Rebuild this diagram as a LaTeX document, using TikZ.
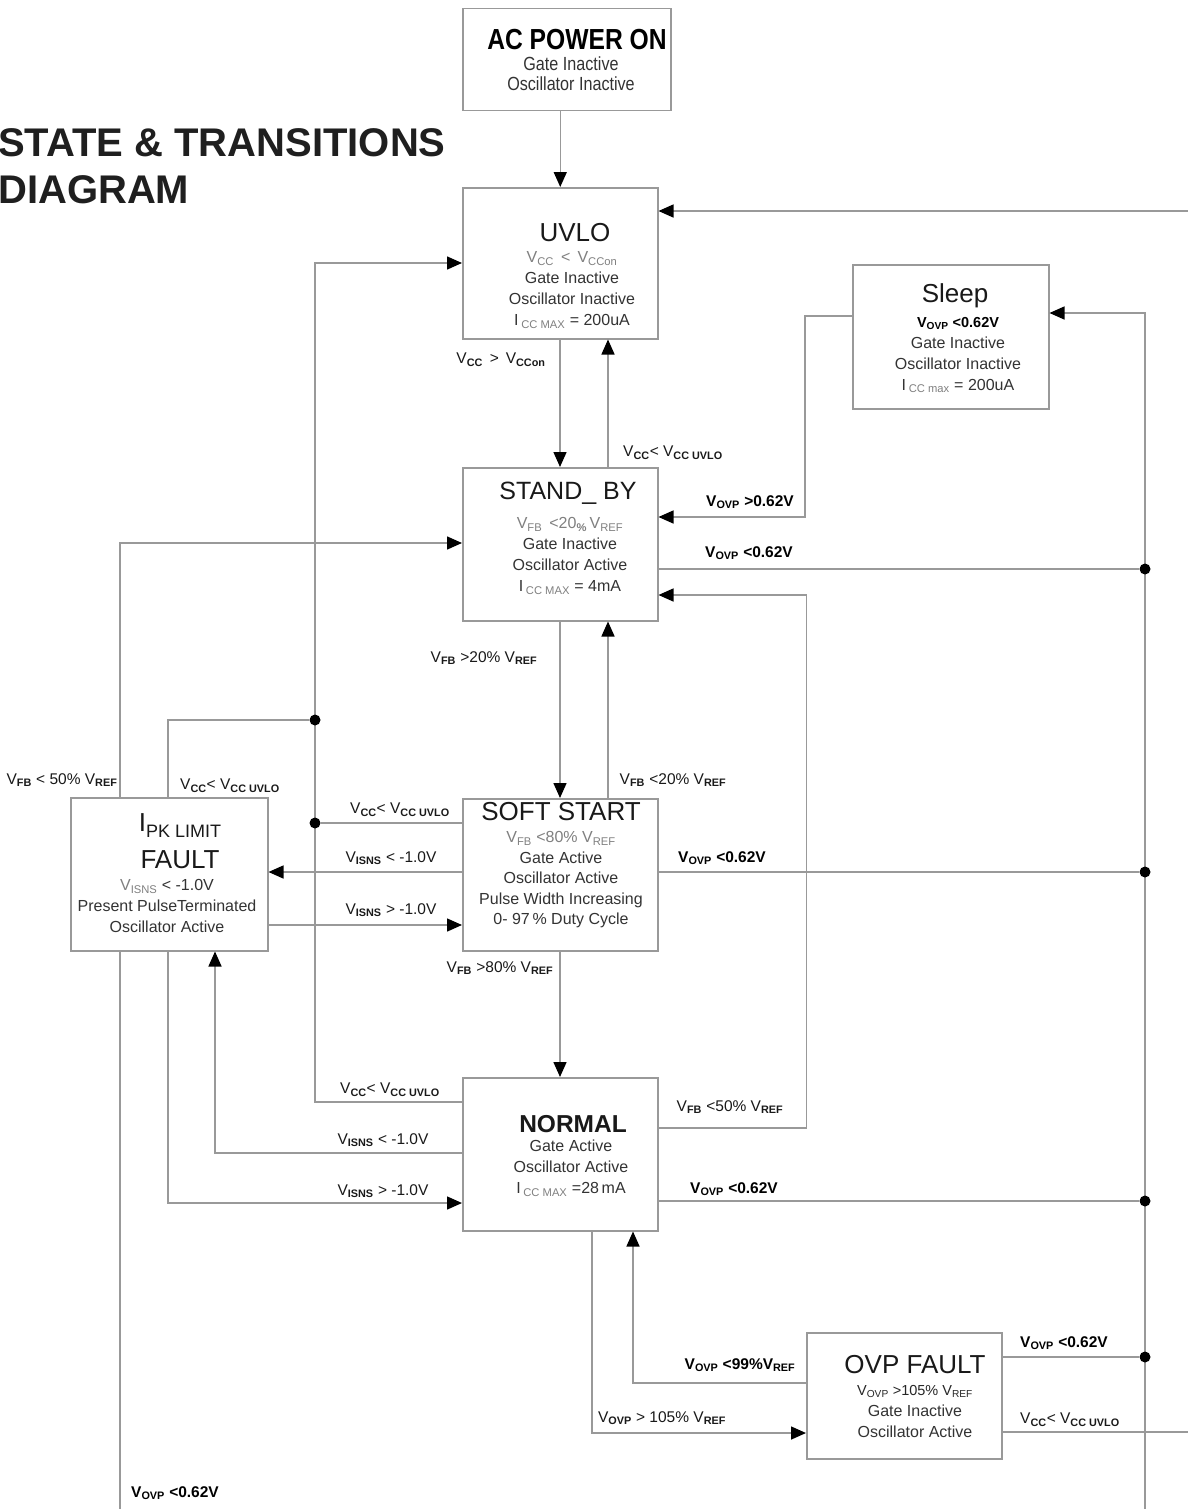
\documentclass[tikz,border=0pt]{standalone}
\usepackage{fontspec}
\setmainfont{Liberation Sans}
\newfontfamily\narrowfont[FakeStretch=0.85]{Liberation Sans}
\usetikzlibrary{arrows.meta}
\definecolor{linegray}{gray}{0.6}
\definecolor{txtgray}{gray}{0.2}
\definecolor{subgray}{gray}{0.5}
\newcommand\sbb[1]{\textsubscript{\bfseries #1}}
\newcommand\sbg[1]{\textsubscript{\color{subgray}#1}}
\tikzset{
  box/.style={draw=linegray, line width=1.5pt, fill=white, inner sep=0pt, anchor=north west},
  conn/.style={draw=linegray, line width=1.5pt},
  arr/.style={conn, -{Triangle[length=15pt,width=13pt,color=black]}},
  ttl/.style={font=\fontsize{26}{28}\selectfont, inner sep=0pt, text=black!90},
  body/.style={font=\fontsize{16}{21}\selectfont, text=txtgray, align=center, inner sep=0pt},
  cond/.style={font=\fontsize{15.5}{17}\selectfont, inner sep=0pt, text=black!90},
  bcond/.style={font=\fontsize{15.5}{17}\selectfont\bfseries, inner sep=0pt, text=black},
  jdot/.style={circle, fill=black, inner sep=0pt, minimum size=11pt}
}
\begin{document}
\begin{tikzpicture}[x=1pt,y=-1pt]
\useasboundingbox (0,0) rectangle (1187,1509);

% title
\node[anchor=west, align=left, inner sep=0pt, font=\fontsize{40}{47}\selectfont\bfseries, text=black!88] (title) at (-2,166) {STATE \& TRANSITIONS\\DIAGRAM};

% boxes
\node[box, minimum width=208, minimum height=102] (ac) at (462,8) {};
\node[box, minimum width=195, minimum height=151] (uvlo) at (462,187) {};
\node[box, minimum width=196, minimum height=144] (sleep) at (852,264) {};
\node[box, minimum width=195, minimum height=153] (sb) at (462,467) {};
\node[box, minimum width=195, minimum height=152] (ss) at (462,798) {};
\node[box, minimum width=197, minimum height=153] (ipk) at (70,797) {};
\node[box, minimum width=195, minimum height=153] (nor) at (462,1077) {};
\node[box, minimum width=195, minimum height=126] (ovp) at (806,1332) {};

% box texts
\node[inner sep=0pt, font=\narrowfont\fontsize{29}{30}\selectfont\bfseries] (act) at (577,40) {AC POWER ON};
\node[body, font=\narrowfont\fontsize{19}{20}\selectfont] (acb) at (571,74) {Gate Inactive\\Oscillator Inactive};

\node[ttl] (uvlot) at (575,233) {UVLO};
\node[body] (uvlob) at (572,290) {{\color{subgray}V\textsubscript{CC} \,<\, V\textsubscript{CCon}}\\Gate Inactive\\Oscillator Inactive\\I\,\sbg{CC MAX} = 200uA};

\node[ttl] (sleept) at (955,296) {Sleep};
\node[body] (sleepb) at (958,355) {{\fontsize{14.5}{21}\selectfont\bfseries\color{black}V\textsubscript{OVP} <0.62V}\\Gate Inactive\\Oscillator Inactive\\I\,\sbg{CC max} = 200uA};

\node[ttl, font=\fontsize{25}{28}\selectfont] (sbt) at (568,493) {STAND\_ BY};
\node[body] (sbb) at (570,556) {{\color{subgray}V\textsubscript{FB} \,<20\textsubscript{\bfseries\%}\,V\textsubscript{REF}}\\Gate Inactive\\Oscillator Active\\I\,\sbg{CC MAX} = 4mA};

\node[ttl] (sst) at (561,812) {SOFT START};
\node[body, font=\fontsize{16}{20.5}\selectfont] (ssb) at (561,880) {{\color{subgray}V\textsubscript{FB} <80\% V\textsubscript{REF}}\\Gate Active\\Oscillator Active\\Pulse Width Increasing\\0- 97\,\% Duty Cycle};

\node[ttl] (ipkt) at (180,826) {I\raisebox{-6pt}{\fontsize{18}{18}\selectfont PK LIMIT}};
\node[ttl] (ipkf) at (180,860) {FAULT};
\node[body] (ipkb) at (167,906) {{\color{subgray}V\textsubscript{ISNS}} < -1.0V\\Present PulseTerminated\\Oscillator Active};

\node[ttl, font=\fontsize{24.5}{28}\selectfont\bfseries] (nort) at (573,1124) {NORMAL};
\node[body] (norb) at (571,1168) {Gate Active\\Oscillator Active\\I\,\sbg{CC MAX} =28\,mA};

\node[ttl] (ovpt) at (915,1365) {OVP FAULT};
\node[body] (ovpb) at (915,1411) {{\fontsize{14.5}{21}\selectfont\color{black!85}V\textsubscript{OVP} >105\% V\textsubscript{REF}}\\Gate Inactive\\Oscillator Active};

% free coordinates
\coordinate (redge1) at (1190,211);
\coordinate (redge2) at (1190,1432);
\coordinate (busTop) at (1145,313);
\coordinate (busBot) at (1145,1512);
\coordinate (bot1) at (120,1512);

% connectors
\draw[arr] (uvlo.north |- ac.south) -- (uvlo.north);
\draw[arr] (redge1) -- ([yshift=-24pt]uvlo.north east);
\draw[arr] ([xshift=98pt]uvlo.south west) -- ([xshift=98pt]sb.north west);
\draw[arr] ([xshift=146pt]sb.north west) -- ([xshift=146pt]uvlo.south west);
\draw[arr] ([yshift=-52pt]sleep.north west) -- ++(-47,0) |- ([yshift=-50pt]sb.north east);
\draw[arr] ([yshift=-51pt]nor.north east) -- ++(148,0) |- ([yshift=-128pt]sb.north east);
\draw[arr] ([xshift=98pt]sb.south west) -- ([xshift=98pt]ss.north west);
\draw[arr] ([xshift=146pt]ss.north west) -- ([xshift=146pt]sb.south west);
\draw[arr] ([xshift=98pt]ss.south west) -- ([xshift=98pt]nor.north west);
\draw[arr] ([yshift=-74pt]ss.north west) -- ([yshift=-75pt]ipk.north east);
\draw[arr] ([yshift=-128pt]ipk.north east) -- ([yshift=-127pt]ss.north west);
\draw[arr] ([xshift=50pt]ipk.north west) |- ([yshift=-76pt]sb.north west);
\draw[arr] ([yshift=-25pt]nor.north west) -- ++(-147,0) |- ([yshift=-76pt]uvlo.north west);
\draw[arr] ([yshift=-76pt]nor.north west) -| ([xshift=145pt]ipk.south west);
\draw[arr] ([xshift=98pt]ipk.south west) |- ([yshift=-126pt]nor.north west);
\draw[conn] ([xshift=50pt]ipk.south west) -- (bot1);
\draw[arr] ([xshift=130pt]nor.south west) |- ([yshift=-101pt]ovp.north west);
\draw[arr] ([yshift=-51pt]ovp.north west) -| ([xshift=171pt]nor.south west);
\draw[conn] ([yshift=-100pt]ovp.north east) -- (redge2);
\draw[arr] (busBot) -- (busTop) -- ([yshift=-49pt]sleep.north east);

% junction dots
\node[jdot] (d1) at (1145,569) {};
\node[jdot] (d2) at (1145,872) {};
\node[jdot] (d3) at (1145,1201) {};
\node[jdot] (d4) at (1145,1357) {};
\node[jdot] (d5) at (315,720) {};
\node[jdot] (d6) at (315,823) {};

\draw[conn] ([yshift=-102pt]sb.north east) -- (d1);
\draw[conn] ([yshift=-74pt]ss.north east) -- (d2);
\draw[conn] ([yshift=-124pt]nor.north east) -- (d3);
\draw[conn] ([yshift=-25pt]ovp.north east) -- (d4);
\draw[conn] ([xshift=98pt]ipk.north west) |- (d5);
\draw[conn] ([yshift=-25pt]ss.north west) -- (d6);

% condition labels
\node[cond] (l1) at (501,360) {V\sbb{CC} \,>\, V\sbb{CCon}};
\node[cond] (l2) at (673,453) {V\sbb{CC}< V\sbb{CC UVLO}};
\node[bcond] (l3) at (750,502) {V\textsubscript{OVP} >0.62V};
\node[bcond] (l4) at (749,553) {V\textsubscript{OVP} <0.62V};
\node[cond] (l5) at (484,658) {V\sbb{FB} >20\% V\sbb{REF}};
\node[cond] (l6) at (673,780) {V\sbb{FB} <20\% V\sbb{REF}};
\node[cond] (l7) at (62,780) {V\sbb{FB} < 50\% V\sbb{REF}};
\node[cond] (l8) at (230,786) {V\sbb{CC}< V\sbb{CC UVLO}};
\node[cond] (l9) at (400,810) {V\sbb{CC}< V\sbb{CC UVLO}};
\node[cond] (l10) at (391,858) {V\sbb{ISNS} < -1.0V};
\node[cond] (l11) at (391,910) {V\sbb{ISNS} > -1.0V};
\node[bcond] (l12) at (722,858) {V\textsubscript{OVP} <0.62V};
\node[cond] (l13) at (500,968) {V\sbb{FB} >80\% V\sbb{REF}};
\node[cond] (l14) at (390,1090) {V\sbb{CC}< V\sbb{CC UVLO}};
\node[cond] (l15) at (730,1107) {V\sbb{FB} <50\% V\sbb{REF}};
\node[cond] (l16) at (383,1140) {V\sbb{ISNS} < -1.0V};
\node[cond] (l17) at (383,1191) {V\sbb{ISNS} > -1.0V};
\node[bcond] (l18) at (734,1189) {V\textsubscript{OVP} <0.62V};
\node[bcond] (l19) at (740,1365) {V\textsubscript{OVP} <99\%V\textsubscript{REF}};
\node[cond] (l20) at (662,1418) {V\sbb{OVP} > 105\% V\sbb{REF}};
\node[bcond] (l21) at (1064,1343) {V\textsubscript{OVP} <0.62V};
\node[cond] (l22) at (1070,1420) {V\sbb{CC}< V\sbb{CC UVLO}};
\node[bcond] (l23) at (175,1493) {V\textsubscript{OVP} <0.62V};
\end{tikzpicture}
\end{document}
